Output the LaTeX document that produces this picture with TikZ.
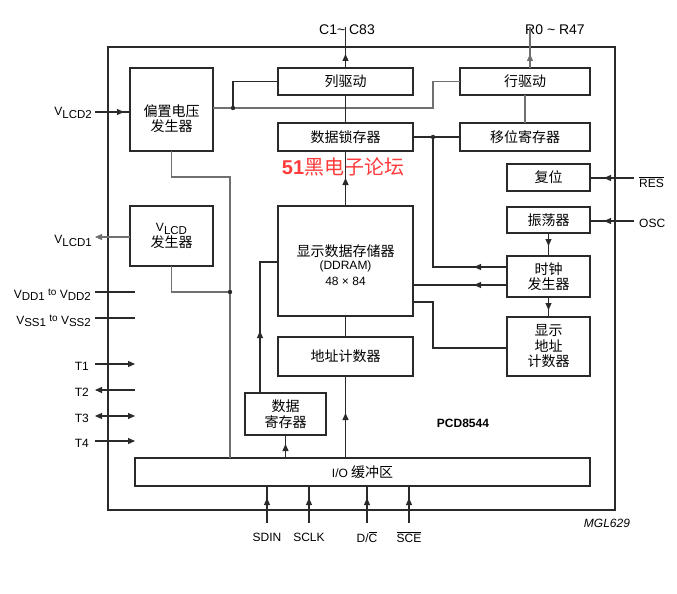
\documentclass[tikz,border=0pt]{standalone}
\usepackage{fontspec}
\setmainfont{Liberation Sans}
\newfontfamily\cjk{Noto Sans CJK SC}
\usetikzlibrary{arrows.meta,decorations.markings}
\definecolor{boxc}{HTML}{2A2A2A}
\definecolor{lgray}{HTML}{707070}
\definecolor{redt}{HTML}{FF3B3B}
\newcommand\cjkf{\cjk\fontsize{14}{15.5}\selectfont}
\newcommand\latf{\fontsize{12}{13}\selectfont}
\newcommand\lsub[1]{\raisebox{-0.35ex}{\fontsize{11.5}{12}\selectfont #1}}
\newcommand\tosm{\raisebox{0.45ex}{\fontsize{10}{10}\selectfont to}}
\tikzset{
 box/.style={draw=boxc,line width=1.5pt,inner sep=0pt,outer sep=0pt,align=center,font=\cjkf},
 boxtext/.style={align=center,font=\cjkf,inner sep=0pt},
 wire/.style={line width=1.1pt,draw=boxc},
 gwire/.style={line width=1.1pt,draw=lgray},
 arrat/.style={decoration={markings,mark=at position #1 with {\arrow{Triangle[length=7pt,width=6pt]}}},postaction={decorate}},
 tipend/.style={-{Triangle[length=7pt,width=6pt]}},
 tipboth/.style={{Triangle[length=7pt,width=6pt]}-{Triangle[length=7pt,width=6pt]}},
 lab/.style={font=\latf,inner sep=0pt},
 dot/.style={circle,fill=boxc,inner sep=0pt,minimum size=4.4pt},
}
\begin{document}
\begin{tikzpicture}[x=1pt,y=-1pt]
\useasboundingbox (0,0) rectangle (677,594);
\fill[white] (0,0) rectangle (677,594);
% frame
\node[draw=boxc,line width=2pt,inner sep=0pt,minimum width=507pt,minimum height=463pt] (frame) at (361.5,278.5) {};
% boxes
\node[box,minimum width=83pt,minimum height=83pt,label={[boxtext,yshift=-9pt]center:偏置电压\\发生器}] (bias) at (171.5,109.5) {};
\node[box,minimum width=135pt,minimum height=27pt] (coldrv) at (345.5,81.5) {列驱动};
\node[box,minimum width=130pt,minimum height=27pt] (rowdrv) at (525,81.5) {行驱动};
\node[box,minimum width=135pt,minimum height=28pt] (latch) at (345.5,137) {数据锁存器};
\node[box,minimum width=130pt,minimum height=28pt] (shift) at (525,137) {移位寄存器};
\node[box,minimum width=83pt,minimum height=27pt] (reset) at (548.5,177.5) {复位};
\node[box,minimum width=83pt,minimum height=26pt] (osc) at (548.5,220) {振荡器};
\node[box,minimum width=83pt,minimum height=60pt] (vlcd) at (171.5,236) {{\rmfamily\latf V\lsub{LCD}}\\发生器};
\node[box,minimum width=135pt,minimum height=110pt,label={[boxtext,yshift=-4pt]center:\raisebox{-2pt}{显示数据存储器}\\{\rmfamily\fontsize{12}{14.5}\selectfont (DDRAM)}\\{\rmfamily\fontsize{12}{14.5}\selectfont 48 × 84}}] (ddram) at (345.5,261) {};
\node[box,minimum width=83pt,minimum height=41pt] (clock) at (548.5,276.5) {时钟\\发生器};
\node[box,minimum width=83pt,minimum height=59pt] (dispaddr) at (548.5,346.5) {显示\\地址\\计数器};
\node[box,minimum width=135pt,minimum height=39pt] (addrcnt) at (345.5,356.5) {地址计数器};
\node[box,minimum width=81pt,minimum height=42pt] (datareg) at (285.5,414) {数据\\寄存器};
\node[box,minimum width=455pt,minimum height=28pt] (iobuf) at (362.5,472) {{\rmfamily\latf I/O} 缓冲区};
% labels
\node[lab,font=\fontsize{14}{15}\selectfont] (c1lab) at (347,30) {C1\textasciitilde\ C83};
\node[lab,font=\fontsize{14}{15}\selectfont] (r0lab) at (555,30) {R0 \textasciitilde\ R47};
\node[inner sep=0pt,text=redt,font=\cjk\fontsize{20}{20}\selectfont] (forum) at (343,167) {{\rmfamily\bfseries 51}黑电子论坛};
\node[lab,anchor=east] (lvlcd2) at (92,113) {V\lsub{LCD2}};
\node[lab,anchor=east] (lvlcd1) at (92,241) {V\lsub{LCD1}};
\node[lab,anchor=east] (lvdd) at (91,295) {V\lsub{DD1} \tosm\ V\lsub{DD2}};
\node[lab,anchor=east] (lvss) at (91,321) {V\lsub{SS1} \tosm\ V\lsub{SS2}};
\node[lab,anchor=east] (lt1) at (89,366) {T1};
\node[lab,anchor=east] (lt2) at (89,392) {T2};
\node[lab,anchor=east] (lt3) at (89,418) {T3};
\node[lab,anchor=east] (lt4) at (89,443) {T4};
\node[lab,anchor=west] (lres) at (639,182) {$\overline{\mbox{RES}}$};
\node[lab,anchor=west] (losc) at (639,223) {OSC};
\node[lab] (lsdin) at (267,537) {SDIN};
\node[lab] (lsclk) at (309,537) {SCLK};
\node[lab] (ldc) at (367,537) {D/$\overline{\mbox{C}}$};
\node[lab] (lsce) at (409,537) {$\overline{\mbox{SCE}}$};
\node[lab,font=\latf\itshape] (mgl) at (607,523) {MGL629};
\node[lab,font=\latf\bfseries] (pcd) at (463,423) {PCD8544};
% coordinates
\coordinate (vlcd2s) at (95,112);
\coordinate (j1) at (233,108);
\coordinate (j2) at (433,108);
\coordinate (c1top) at (345.5,27);
\coordinate (r0top) at (530,27);
\coordinate (j3) at (433,137);
\coordinate (cl1) at (433,267);
\coordinate (cl2) at (433,285);
\coordinate (j4) at (433,302);
\coordinate (j5) at (433,348);
\coordinate (resin) at (634,178);
\coordinate (oscin) at (634,221);
\coordinate (b1) at (171.5,177);
\coordinate (j6) at (230,177);
\coordinate (j7) at (230,292);
\coordinate (v1) at (171.5,292);
\coordinate (vlcd1e) at (95,237);
\coordinate (vdda) at (95,292);
\coordinate (vddb) at (135,292);
\coordinate (vssa) at (95,318);
\coordinate (vssb) at (135,318);
\coordinate (t1a) at (95,364);
\coordinate (t1b) at (135,364);
\coordinate (t2a) at (95,390);
\coordinate (t2b) at (135,390);
\coordinate (t3a) at (95,416);
\coordinate (t3b) at (135,416);
\coordinate (t4a) at (95,441);
\coordinate (t4b) at (135,441);
\coordinate (dr1) at (260,262);
\coordinate (sdin) at (267,523);
\coordinate (sclk) at (309,523);
\coordinate (dc) at (367,523);
\coordinate (sce) at (409,523);
% connectors
\draw[wire,arrat=29pt] (vlcd2s) -- (vlcd2s -| bias.west);
\draw[gwire] (bias.east |- j1) -- (j2) -- (j2 |- rowdrv.west) -- (rowdrv.west);
\draw[wire] (j1) -- (j1 |- coldrv.west) -- (coldrv.west);
\draw[wire,arrat=14pt] (coldrv.north) -- (c1top);
\draw[gwire,arrat=14pt] (r0top |- rowdrv.north) -- (r0top);
\draw[wire] (latch.north) -- (coldrv.south);
\draw[gwire] (shift.north) -- (rowdrv.south);
\draw[wire] (latch.east) -- (shift.west);
\draw[wire,arrat=33pt] (clock.west |- cl1) -- (cl1) -- (j3);
\draw[wire,arrat=33pt] (clock.west |- cl2) -- (cl2 -| ddram.east);
\draw[wire] (j4 -| ddram.east) -- (j4) -- (j5) -- (j5 -| dispaddr.west);
\draw[wire,arrat=28pt] (ddram.north) -- (latch.south);
\draw[wire] (addrcnt.north) -- (ddram.south);
\draw[wire,arrat=45pt] (addrcnt.south |- iobuf.north) -- (addrcnt.south);
\draw[wire,arrat=14pt] (datareg.south |- iobuf.north) -- (datareg.south);
\draw[wire,arrat=62pt] (dr1 |- datareg.north) -- (dr1) -- (dr1 -| ddram.west);
\draw[wire,arrat=13pt] (osc.south) -- (clock.north);
\draw[wire,arrat=13pt] (clock.south) -- (dispaddr.north);
\draw[wire,arrat=30pt] (resin) -- (resin -| reset.east);
\draw[wire,arrat=30pt] (oscin) -- (oscin -| osc.east);
\draw[gwire] (bias.south) -- (b1) -- (j6) -- (j6 |- iobuf.north);
\draw[gwire] (vlcd.south) -- (v1) -- (j7);
\draw[gwire,tipend] (vlcd1e -| vlcd.west) -- (vlcd1e);
\draw[wire] (vdda) -- (vddb);
\draw[wire] (vssa) -- (vssb);
\draw[wire,tipend] (t1a) -- (t1b);
\draw[wire,tipend] (t2b) -- (t2a);
\draw[wire,tipboth] (t3a) -- (t3b);
\draw[wire,tipend] (t4a) -- (t4b);
\draw[wire,arrat=25pt] (sdin) -- (sdin |- iobuf.south);
\draw[wire,arrat=25pt] (sclk) -- (sclk |- iobuf.south);
\draw[wire,arrat=25pt] (dc) -- (dc |- iobuf.south);
\draw[wire,arrat=25pt] (sce) -- (sce |- iobuf.south);
% dots
\node[dot] (d1) at (j1) {};
\node[dot] (d2) at (j3) {};
\node[dot] (d3) at (j7) {};
\end{tikzpicture}
\end{document}
